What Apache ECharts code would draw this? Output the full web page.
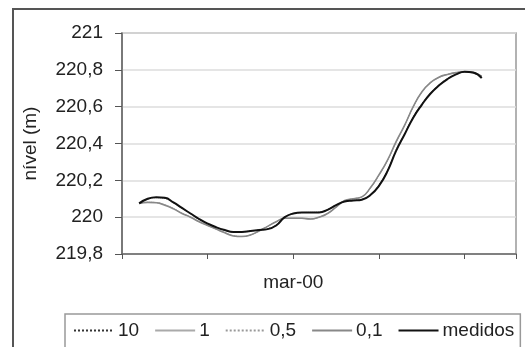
<!DOCTYPE html>
<html>
<head>
<meta charset="utf-8">
<script src="https://cdn.jsdelivr.net/npm/echarts@6/dist/echarts.min.js"></script>
<style>
  html, body { margin: 0; padding: 0; background: #fff; }
  #chart { width: 525px; height: 347px; }
</style>
</head>
<body>
<div id="chart"></div>
<script>
// days from the start of the axis (one tick every 10 days)
const days = [2, 3, 4, 5, 6, 7, 8, 9, 10, 11, 12, 13, 14, 15, 16, 17, 18, 19, 20, 21, 22,
  23, 24, 25, 26, 27, 28, 29, 30, 31, 32, 33, 34, 35, 36, 37, 38, 39, 40, 41, 42];

const medidos = [220.075, 220.1, 220.108, 220.105, 220.08, 220.05, 220.02, 219.99, 219.965, 219.945,
  219.93, 219.92, 219.92, 219.925, 219.93, 219.935, 219.955, 220.0, 220.02, 220.026, 220.026,
  220.026, 220.04, 220.065, 220.085, 220.09, 220.095, 220.12, 220.17, 220.25, 220.36,
  220.45, 220.54, 220.61, 220.67, 220.715, 220.75, 220.775, 220.79, 220.785, 220.755];

const s10 = [220.075, 220.098, 220.106, 220.102, 220.078, 220.048, 220.018, 219.988, 219.963, 219.943,
  219.928, 219.92, 219.92, 219.925, 219.93, 219.937, 219.958, 220.0, 220.02, 220.025, 220.026,
  220.027, 220.042, 220.066, 220.086, 220.091, 220.097, 220.123, 220.175, 220.255, 220.365,
  220.455, 220.545, 220.615, 220.673, 220.718, 220.752, 220.776, 220.79, 220.784, 220.757];

const s1 = [220.075, 220.082, 220.08, 220.068, 220.048, 220.022, 220.0, 219.977, 219.956, 219.936,
  219.917, 219.9, 219.896, 219.904, 219.925, 219.95, 219.975, 219.993, 219.995, 219.994, 219.99,
  220.0, 220.02, 220.055, 220.088, 220.1, 220.11, 220.158, 220.228, 220.308, 220.405,
  220.498, 220.598, 220.678, 220.728, 220.758, 220.775, 220.785, 220.79, 220.785, 220.765];

const s05 = [220.075, 220.081, 220.079, 220.066, 220.046, 220.021, 220.0, 219.976, 219.955, 219.935,
  219.916, 219.899, 219.895, 219.903, 219.925, 219.95, 219.975, 219.994, 219.994, 219.994, 219.99,
  220.0, 220.02, 220.055, 220.089, 220.1, 220.11, 220.159, 220.229, 220.309, 220.408,
  220.499, 220.599, 220.679, 220.729, 220.759, 220.775, 220.785, 220.79, 220.785, 220.765];

const s01 = [220.075, 220.08, 220.078, 220.065, 220.045, 220.02, 220.0, 219.975, 219.955, 219.935,
  219.915, 219.898, 219.895, 219.903, 219.925, 219.95, 219.975, 219.994, 219.994, 219.994, 219.99,
  220.0, 220.02, 220.055, 220.09, 220.1, 220.11, 220.16, 220.23, 220.31, 220.41,
  220.5, 220.6, 220.68, 220.73, 220.76, 220.775, 220.785, 220.79, 220.785, 220.765];

const xLabels = { 20: 'mar-00' };
const font = 'Liberation Sans, Arial, sans-serif';

const pairs = (ys) => days.map((d, i) => [d, ys[i]]);

const chart = echarts.init(document.getElementById('chart'));
chart.setOption({
  animation: false,
  backgroundColor: '#fff',
  textStyle: { fontFamily: font },
  graphic: [{
    type: 'rect',
    shape: { x: 13, y: 9, width: 600, height: 400 },
    style: { fill: 'none', stroke: '#555', lineWidth: 2 },
    silent: true
  }],
  grid: {
    left: 122, right: 9, top: 33, bottom: 93,
    show: true, borderColor: '#999', borderWidth: 1.5
  },
  legend: {
    left: 65, top: 314,
    padding: [7, 6, 20, 8],
    itemGap: 15,
    itemWidth: 40, itemHeight: 14,
    borderColor: '#999', borderWidth: 1.5,
    itemStyle: { opacity: 0 },
    textStyle: { fontFamily: font, fontSize: 19, color: '#222', padding: [0, 0, 0, -1] },
    data: ['10', '1', '0,5', '0,1', 'medidos']
  },
  xAxis: {
    type: 'value', min: 0, max: 46, interval: 10,
    axisLine: { show: true, lineStyle: { color: '#666', width: 1.5 } },
    axisTick: { show: true, length: 5, lineStyle: { color: '#555' } },
    splitLine: { show: false },
    axisLabel: {
      margin: 19, fontSize: 19, color: '#222', fontFamily: font,
      formatter: (v) => xLabels[v] || ''
    }
  },
  yAxis: {
    type: 'value', min: 219.8, max: 221, interval: 0.2,
    name: 'nível (m)', nameLocation: 'middle', nameGap: 82, nameRotate: 90,
    nameTextStyle: { fontSize: 19, color: '#222', fontFamily: font },
    axisLine: { show: true, lineStyle: { color: '#666', width: 1.5 } },
    axisTick: { show: true, length: 7, lineStyle: { color: '#555' } },
    splitLine: { show: true, lineStyle: { color: '#ddd', width: 1.5 } },
    axisLabel: {
      margin: 19, fontSize: 19, color: '#222', fontFamily: font,
      formatter: (v) => String(Number(v.toFixed(1))).replace('.', ',')
    }
  },
  series: [
    { name: '10', type: 'line', data: pairs(s10), symbol: 'none', smooth: true,
      lineStyle: { color: '#333', width: 1, type: 'dotted' }, itemStyle: { color: '#333' } },
    { name: '1', type: 'line', data: pairs(s1), symbol: 'none', smooth: true,
      lineStyle: { color: '#aaa', width: 1 }, itemStyle: { color: '#aaa' } },
    { name: '0,5', type: 'line', data: pairs(s05), symbol: 'none', smooth: true,
      lineStyle: { color: '#999', width: 1, type: 'dotted' }, itemStyle: { color: '#999' } },
    { name: '0,1', type: 'line', data: pairs(s01), symbol: 'none', smooth: true,
      lineStyle: { color: '#888', width: 1.6 }, itemStyle: { color: '#888' } },
    { name: 'medidos', type: 'line', data: pairs(medidos), symbol: 'none', smooth: true,
      lineStyle: { color: '#111', width: 2 }, itemStyle: { color: '#111' } }
  ]
});
</script>
</body>
</html>
